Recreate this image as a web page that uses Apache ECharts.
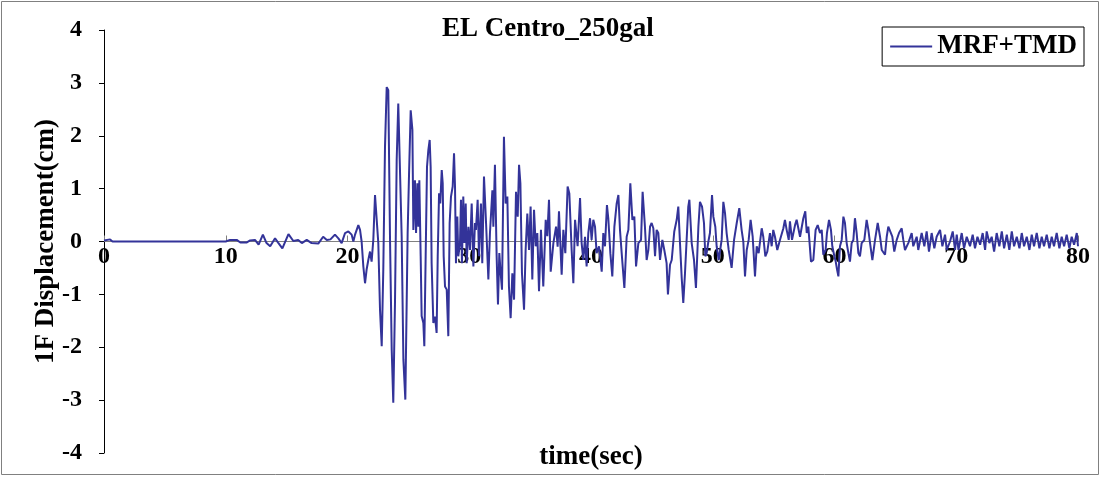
<!DOCTYPE html>
<html><head><meta charset="utf-8">
<script src="https://cdn.jsdelivr.net/npm/echarts@6/dist/echarts.min.js"></script>
<style>html,body{margin:0;padding:0;background:#fff}#c{width:1101px;height:477px}</style>
</head><body><div id="c"></div>
<script>
const seriesName = 'MRF+TMD';
const titleText = 'EL Centro_250gal';
const xTicks = [0, 10, 20, 30, 40, 50, 60, 70, 80];
const yTicks = [-4, -3, -2, -1, 0, 1, 2, 3, 4];

const timeSec = [
0,0.15,0.5,0.7,2.3,2.45,2.6,10.0,10.35,10.9,11.2,11.7,12.0,12.4,12.7,13.05,13.35,13.65,14.05,14.3,14.65,15.15,15.55,15.95,16.25,16.65,17.05,17.6,18.0,18.3,18.6,
18.97,19.25,19.52,19.8,20.07,20.34,20.48,20.62,20.89,21.03,21.16,21.3,21.44,21.57,21.71,21.85,21.98,22.12,22.26,22.4,22.53,22.67,22.81,22.94,23.08,23.22,23.35,23.49,23.63,23.76,23.9,24.04,24.17,24.31,24.45,24.59,24.75,
24.94,25.05,25.19,25.33,25.41,25.54,25.63,25.74,25.82,25.9,26.01,26.09,26.23,26.31,26.42,26.53,26.64,26.75,26.83,26.91,27.05,27.19,27.32,27.41,27.52,27.62,27.74,27.82,27.9,28.01,28.15,28.28,28.39,28.5,28.64,28.75,28.83,28.91,29.02,29.1,29.24,29.32,29.4,29.51,29.6,29.71,29.79,29.93,30.06,30.2,30.34,30.47,30.55,30.69,30.8,30.96,31.07,
31.21,31.38,31.57,31.7,31.9,31.98,32.11,32.25,32.36,32.47,32.58,32.69,32.85,32.99,33.13,33.26,33.4,33.54,33.68,33.84,33.98,34.09,34.2,34.33,34.5,34.63,34.77,34.91,35.04,35.18,35.32,35.46,35.59,35.73,35.89,36.08,36.28,36.41,36.55,36.69,36.91,37.13,37.26,37.37,37.59,37.73,37.89,38.08,38.22,38.41,38.55,
38.69,38.9,39.1,39.23,39.37,39.51,39.64,39.78,39.92,40.05,40.19,40.33,40.46,40.66,40.88,41.01,41.15,41.31,41.42,41.59,41.75,41.92,42.11,42.25,42.38,42.52,42.74,42.93,43.07,43.23,43.4,43.56,43.7,43.89,44.11,44.24,44.43,44.57,44.71,44.85,44.98,45.12,45.26,45.39,45.53,45.67,45.86,46.02,46.21,46.32,46.49,46.63,46.84,47.04,47.17,47.31,47.45,47.58,47.72,47.99,
48.08,48.27,48.46,48.62,48.82,48.95,49.12,49.28,49.39,49.5,49.64,49.77,49.94,50.05,50.21,50.32,50.49,50.73,50.87,51.01,51.14,51.31,51.55,51.75,51.97,52.18,52.37,52.51,52.65,52.79,52.95,53.11,53.28,53.47,53.61,53.77,54.02,54.15,54.32,54.48,54.7,54.84,54.97,55.11,55.3,55.52,55.8,55.93,56.07,56.24,56.34,56.51,56.76,56.89,57.17,57.44,57.6,57.72,
57.85,58.07,58.26,58.45,58.62,58.81,58.95,59.08,59.27,59.38,59.55,59.71,59.82,59.99,60.1,60.21,60.32,60.45,60.59,60.73,60.86,61.0,61.14,61.27,61.41,61.55,61.68,61.82,61.96,62.09,62.23,62.45,62.64,62.78,62.92,63.11,63.33,63.55,63.74,63.88,64.15,64.29,64.42,64.56,64.75,64.91,65.11,65.3,65.52,65.65,65.79,66.06,66.34,66.47,66.75,66.88,67.16,67.38,67.57,67.76,67.98,68.2,68.39,68.67,68.86,
69.08,69.22,69.49,69.71,69.9,70.04,70.18,70.45,70.64,70.86,71.13,71.35,71.54,71.74,71.96,72.17,72.37,72.5,72.72,72.91,73.11,73.32,73.54,73.74,73.93,74.15,74.36,74.56,74.75,74.97,75.19,75.38,75.57,75.79,76.01,76.2,76.39,76.61,76.83,77.02,77.21,77.43,77.65,77.84,78.03,78.25,78.47,78.66,78.86,79.07,79.29,79.48,79.68,79.9,80.0
];

const dispCm = [
0.02,0.04,0.04,0,0,0.03,0,0,0.03,0.03,-0.02,-0.02,0.02,0.03,-0.06,0.13,-0.03,-0.09,0.06,-0.02,-0.13,0.14,0.01,0.03,-0.03,0.03,-0.03,-0.04,0.09,0.03,0.04,
0.13,0.06,-0.03,0.16,0.19,0.13,0.0,0.13,0.31,0.22,0.0,-0.47,-0.79,-0.53,-0.35,-0.19,-0.38,0.03,0.88,0.85,-0.03,-1.29,-1.98,-0.53,1.79,2.92,2.86,0.09,-2.04,-3.05,-1.16,1.54,2.61,2.64,0.09,-2.23,-2.99,
0.16,1.23,2.48,2.11,0.22,1.16,0.16,1.1,0.28,1.16,-0.28,-1.41,-1.54,-1.98,-0.28,1.41,1.73,1.92,1.41,-0.41,-1.54,-1.42,-1.73,-0.28,0.91,0.72,1.35,1.1,-0.28,-0.85,-0.91,-1.79,0.35,0.85,1.04,1.67,1.04,-0.41,0.47,-0.28,-0.03,0.79,-0.41,0.85,-0.03,0.72,-0.41,0.28,-0.16,0.72,-0.47,0.35,0.22,0.79,-0.28,0.72,-0.41,
1.23,0.35,-0.72,0.16,0.97,0.28,1.45,-0.28,-1.19,-0.22,-0.6,-0.91,1.98,0.72,0.85,-0.85,-1.45,-0.6,-1.1,0.94,0.47,1.45,1.1,-0.6,-1.29,-0.16,0.53,-0.16,0.66,-0.72,0.6,-0.09,0.16,-0.94,0.22,-0.85,0.41,0.1,0.79,-0.57,-0.03,0.28,-0.1,0.57,-0.63,0.22,-0.22,1.04,0.91,-0.16,-0.79,
0.41,-0.09,0.82,-0.03,-0.35,0.09,-0.47,0.16,0.44,0.03,0.41,0.28,-0.22,-0.09,-0.57,0.16,-0.09,0.69,0.44,-0.22,-0.66,0.28,0.72,0.88,0.22,-0.22,-0.88,0.09,0.22,1.1,0.41,0.47,-0.47,-0.03,0.03,0.94,0.28,-0.35,-0.16,0.28,0.35,0.25,-0.28,0.22,0.16,-0.35,0.03,-0.16,-0.41,-1.0,-0.44,-0.35,0.19,0.41,0.66,-0.03,-0.69,-1.16,-0.6,0.66,
0.79,-0.03,-0.35,-0.88,0.28,0.75,0.66,0.35,-0.28,-0.22,0.0,0.16,0.88,0.47,0.28,-0.09,-0.35,0.03,0.75,0.53,0.16,-0.16,-0.5,0.03,0.35,0.63,0.22,0.0,-0.66,-0.16,0.03,0.41,0.09,-0.66,-0.09,-0.22,0.25,0.09,-0.28,-0.19,0.16,-0.09,0.22,0.09,-0.16,0.03,0.25,0.41,0.22,0.03,0.38,0.03,0.31,0.41,0.09,0.44,0.57,0.16,
0.28,-0.38,-0.35,0.22,0.31,0.16,0.22,-0.25,-0.16,0.16,0.41,0.22,-0.09,-0.28,-0.38,-0.53,-0.66,-0.09,0.03,0.47,0.35,-0.03,-0.22,-0.38,-0.03,0.03,0.44,0.16,-0.22,-0.28,-0.03,0.03,0.41,0.22,-0.03,-0.35,0.03,0.35,0.09,-0.16,-0.25,0.09,0.28,0.31,0.09,-0.19,0.03,0.16,0.25,0.03,-0.16,-0.03,0.16,-0.09,0.09,-0.16,0.16,-0.09,0.19,-0.19,0.16,-0.13,0.09,0.22,-0.09,
0.13,-0.16,0.0,0.19,-0.16,0.13,-0.16,0.16,-0.13,0.09,-0.09,0.13,-0.13,0.09,-0.06,0.16,-0.16,0.19,-0.03,0.09,-0.19,0.16,-0.09,0.19,-0.13,0.13,-0.16,0.19,-0.09,0.09,-0.13,0.16,-0.09,0.09,-0.16,0.13,-0.09,0.16,-0.13,0.09,-0.09,0.13,-0.13,0.09,-0.09,0.16,-0.13,0.09,-0.09,0.13,-0.13,0.09,-0.06,0.16,-0.09
];

const FONT = "'Liberation Serif','Times New Roman',serif";
const tickTxt = {fontFamily: FONT, fontSize: 24, fontWeight: 'bold', color: '#000'};
const bigTxt = {fontFamily: FONT, fontSize: 27, fontWeight: 'bold', color: '#000'};
const points = timeSec.map((t, i) => [t, dispCm[i]]);

const chart = echarts.init(document.getElementById('c'), null, {renderer: 'canvas'});
chart.setOption({
  animation: false,
  backgroundColor: '#fff',
  title: {text: titleText, left: 442, top: 16, padding: 0, textStyle: bigTxt},
  legend: {
    data: [{name: seriesName, icon: 'rect'}], right: 17, top: 27,
    borderColor: '#000', borderWidth: 1, padding: [6, 7, 6, 8],
    itemWidth: 42, itemHeight: 2,
    textStyle: bigTxt
  },
  grid: {left: 104, right: 23, top: 30, bottom: 24, containLabel: false, outerBoundsMode: 'none'},
  xAxis: {
    type: 'value', min: xTicks[0], max: xTicks[xTicks.length - 1], interval: 10,
    axisLine: {onZero: true, lineStyle: {color: '#808080', width: 1}},
    axisTick: {show: true, inside: true, length: 6, lineStyle: {color: '#808080'}},
    axisLabel: Object.assign({margin: -208}, tickTxt),
    splitLine: {show: false},
    name: 'time(sec)', nameLocation: 'middle', nameGap: -9, nameMoveOverlap: false, nameTextStyle: bigTxt
  },
  yAxis: {
    type: 'value', min: yTicks[0], max: yTicks[yTicks.length - 1], interval: 1,
    axisLine: {show: true, onZero: false, lineStyle: {color: '#000', width: 1}},
    axisTick: {show: true, length: 5, lineStyle: {color: '#000'}},
    axisLabel: Object.assign({margin: 22}, tickTxt),
    splitLine: {show: false},
    name: '1F Displacement(cm)', nameLocation: 'middle', nameGap: 44, nameRotate: 90, nameMoveOverlap: false, nameTextStyle: bigTxt
  },
  series: [{
    name: seriesName, type: 'line', data: points, symbol: 'none', showSymbol: false,
    lineStyle: {color: '#333399', width: 2}, itemStyle: {color: '#333399'}
  }],
  graphic: [{type: 'rect', silent: true, shape: {x: 1.5, y: 1.5, width: 1097, height: 473},
    style: {fill: 'none', stroke: '#808080', lineWidth: 1}}]
});
</script></body></html>
